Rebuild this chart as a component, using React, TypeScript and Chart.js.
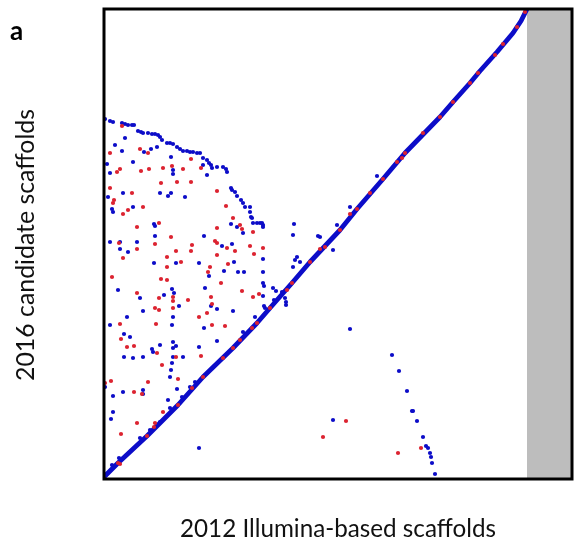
import React, { useEffect, useRef } from "react";
import { Chart, registerables } from "chart.js";

Chart.register(...registerables);

// Axis extents (arbitrary position units along each assembly)
const X_MAX = 468;
const Y_MAX = 470;
// Region of the 2012 assembly with no counterpart (grey band)
const GREY_START = 423;

const PANEL_LABEL = "a";
const X_TITLE = "2012 Illumina-based scaffolds";
const Y_TITLE = "2016 candidate scaffolds";

// Main collinear diagonal (dense alignment run)
const diagX = [0, 14, 43, 74, 99, 129, 153, 166, 188, 206, 236, 253, 279, 301, 336, 349, 366, 376, 393, 409, 417, 423];
const diagY = [2, 16, 43, 74, 102, 131, 156, 171, 196, 217, 249, 270, 300, 326, 362, 377, 396, 408, 427, 446, 458, 470];

// Blue (forward) alignments off the diagonal
const blueX = [
  1, 6, 9, 18, 21, 24, 28, 30, 34, 37, 39, 44, 48, 51, 54, 56, 58, 63, 66, 69, 73, 76, 79, 83, 86, 89, 93, 96,
  99, 103, 105, 107, 108, 113, 119, 122, 123, 127, 128, 131, 133, 137, 139, 141, 146, 146, 147, 148, 149, 153, 156, 159, 159,
  99, 103, 127, 133, 139, 190, 21, 11, 18, 40, 47, 53, 3, 29, 67, 69, 69, 6, 19, 56, 67, 64, 81, 4, 8, 9, 29, 50, 51,
  6, 16, 33, 51, 16, 24, 50, 72, 95, 14, 68, 70, 60, 36, 75, 39, 69, 23, 6, 68, 20, 26, 56, 69, 72, 69, 48, 49, 95,
  100, 118, 128, 159, 130, 105, 120, 134, 140, 159, 159, 160, 101, 169, 172, 159, 107, 113, 129, 100, 113, 182, 160, 151,
  20, 29, 39, 69, 79, 68, 67, 66, 1, 39, 39, 19, 9, 73, 64, 9, 7, 56, 95, 8,
  158, 189, 181, 182, 193, 191, 196, 189, 214, 216, 229, 273, 246, 233,
  246, 288, 295, 303, 308, 309, 313, 319, 322, 324, 326, 327, 328, 331, 229,
  15, 36, 46, 53, 66, 78, 86, 91, 139, 161, 170, 178
];
const blueY = [
  360, 358, 357, 356, 355, 354, 354, 354, 348, 347, 346, 346, 345, 345, 344, 342, 339, 336, 336, 335, 332, 330, 328, 328, 327, 327, 326, 326,
  321, 319, 316, 314, 311, 312, 312, 310, 307, 291, 289, 287, 283, 279, 276, 272, 272, 267, 262, 261, 256, 256, 256, 254, 252,
  314, 304, 255, 252, 246, 255, 341, 334, 328, 327, 330, 332, 315, 317, 322, 309, 305, 306, 286, 286, 286, 283, 282, 282, 270, 267, 272, 255, 253,
  237, 237, 237, 243, 230, 227, 216, 216, 216, 189, 190, 186, 184, 181, 173, 168, 162, 162, 154, 154, 145, 142, 134, 137, 133, 131, 130, 127, 132,
  243, 233, 235, 220, 217, 203, 208, 207, 207, 207, 196, 193, 191, 191, 188, 183, 173, 170, 168, 151, 138, 174, 173, 162,
  122, 121, 122, 122, 122, 116, 109, 102, 92, 89, 85, 87, 83, 90, 79, 67, 60, 57, 31, 14,
  256, 244, 181, 177, 222, 219, 217, 212, 243, 242, 229, 303, 272, 254,
  150, 124, 108, 88, 68, 68, 58, 42, 33, 31, 26, 22, 16, 5, 59,
  21, 41, 49, 54, 71, 82, 92, 97, 147, 171, 179, 187
];

// Red (reverse) alignments
const redX = [
  18, 6, 36, 44, 97, 113, 122, 129, 136, 138, 113, 149, 87, 68, 59, 45, 37, 79, 16, 13, 57, 73, 87, 6, 28, 10, 9, 19, 24, 39, 33, 55,
  15, 67, 51, 33, 19, 88, 72, 87, 63, 77, 63, 8, 57, 63, 33, 55, 69, 69, 84, 51, 55, 69, 95, 52, 16, 17, 23, 30, 53,
  111, 113, 123, 131, 146, 159, 150, 113, 106, 124, 104, 117, 138, 149, 155, 107, 108, 103, 108, 121,
  72, 58, 74, 1, 7, 44, 30, 38, 59, 33, 51, 17, 16, 97,
  242, 219, 294, 317,
  14, 43, 50, 74, 88, 99, 119, 129, 136, 148, 153, 166, 183, 188, 206, 216, 221, 236, 246, 253, 266, 279, 293, 298, 301,
  319, 336, 349, 366, 374, 391, 399, 413, 421
];
const redY = [
  353, 326, 330, 326, 311, 288, 273, 261, 254, 250, 251, 247, 320, 313, 311, 310, 308, 310, 310, 307, 296, 297, 297, 291, 286, 279, 276, 265, 269, 272, 252, 256,
  236, 242, 235, 230, 221, 234, 228, 228, 222, 217, 212, 202, 200, 199, 186, 181, 182, 178, 179, 171, 169, 171, 162, 155, 155, 140, 132, 133, 126,
  238, 236, 231, 228, 233, 231, 225, 224, 212, 215, 207, 196, 188, 182, 185, 182, 175, 166, 154, 153,
  122, 114, 100, 96, 98, 97, 87, 85, 67, 56, 56, 45, 15, 123,
  58, 42, 26, 31,
  16, 43, 52, 74, 91, 102, 121, 131, 139, 151, 156, 171, 189, 196, 217, 230, 232, 249, 265, 270, 286, 300, 317, 321, 326,
  346, 362, 377, 396, 406, 424, 435, 452, 467
];

const BLUE = "#0c0cc8";
const RED = "#dc2330";

function pts(xs: number[], ys: number[]) {
  return xs.map((x, i) => ({ x, y: ys[i] }));
}

const framePlugin = {
  id: "framePlugin",
  beforeDatasetsDraw(chart: any) {
    const { ctx, chartArea, scales } = chart;
    const gx = scales.x.getPixelForValue(GREY_START);
    ctx.save();
    ctx.fillStyle = "#bdbdbd";
    ctx.fillRect(gx, chartArea.top, chartArea.right - gx, chartArea.bottom - chartArea.top);
    ctx.restore();
  },
  afterDatasetsDraw(chart: any) {
    const { ctx, chartArea } = chart;
    ctx.save();
    ctx.strokeStyle = "#000";
    ctx.lineWidth = 3;
    ctx.strokeRect(chartArea.left, chartArea.top, chartArea.right - chartArea.left, chartArea.bottom - chartArea.top);
    ctx.restore();
  },
  afterDraw(chart: any) {
    const { ctx, chartArea } = chart;
    const family = "Lato, 'Open Sans', sans-serif";
    const fit = (text: string, weight: string, target: number) => {
      ctx.font = `${weight} 20px ${family}`;
      const w = ctx.measureText(text).width;
      const size = (20 * target) / w;
      ctx.font = `${weight} ${size}px ${family}`;
    };
    ctx.save();
    ctx.fillStyle = "#111";
    // x title
    fit(X_TITLE, "normal", 316);
    ctx.textAlign = "center";
    ctx.textBaseline = "alphabetic";
    ctx.fillText(X_TITLE, (chartArea.left + chartArea.right) / 2, 537);
    // y title
    ctx.save();
    ctx.translate(34, (chartArea.top + chartArea.bottom) / 2 + 1);
    ctx.rotate(-Math.PI / 2);
    fit(Y_TITLE, "normal", 272);
    ctx.textAlign = "center";
    ctx.fillText(Y_TITLE, 0, 0);
    ctx.restore();
    // panel label
    ctx.font = `bold 26px ${family}`;
    ctx.textAlign = "left";
    ctx.fillStyle = "#000";
    ctx.fillText(PANEL_LABEL, 10, 40);
    ctx.restore();
  },
};

export default function App() {
  const ref = useRef<HTMLCanvasElement | null>(null);
  useEffect(() => {
    document.body.style.margin = "0";
    const canvas = ref.current;
    if (!canvas) return;
    const chart = new Chart(canvas, {
      type: "scatter",
      data: {
        datasets: [
          {
            label: "reverse",
            data: pts(redX, redY),
            backgroundColor: RED,
            borderWidth: 0,
            pointRadius: 2.1,
            order: 0,
          },
          {
            label: "forward",
            data: pts(blueX, blueY),
            backgroundColor: BLUE,
            borderWidth: 0,
            pointRadius: 2.1,
            order: 1,
          },
          {
            label: "diagonal",
            data: pts(diagX, diagY),
            showLine: true,
            borderColor: BLUE,
            borderWidth: 4.8,
            pointRadius: 0,
            tension: 0,
            borderJoinStyle: "round",
            order: 2,
          } as any,
        ],
      },
      options: {
        responsive: false,
        animation: false,
        events: [],
        layout: { padding: { left: 104, right: 5, top: 9, bottom: 70 } },
        plugins: { legend: { display: false }, tooltip: { enabled: false } },
        scales: {
          x: { type: "linear", min: 0, max: X_MAX, display: false },
          y: { type: "linear", min: 0, max: Y_MAX, display: false },
        },
      },
      plugins: [framePlugin],
    });
    return () => chart.destroy();
  }, []);
  return (
    <div style={{ width: 577, height: 549, background: "#fff" }}>
      <canvas ref={ref} width={577} height={549} style={{ display: "block" }} />
    </div>
  );
}
